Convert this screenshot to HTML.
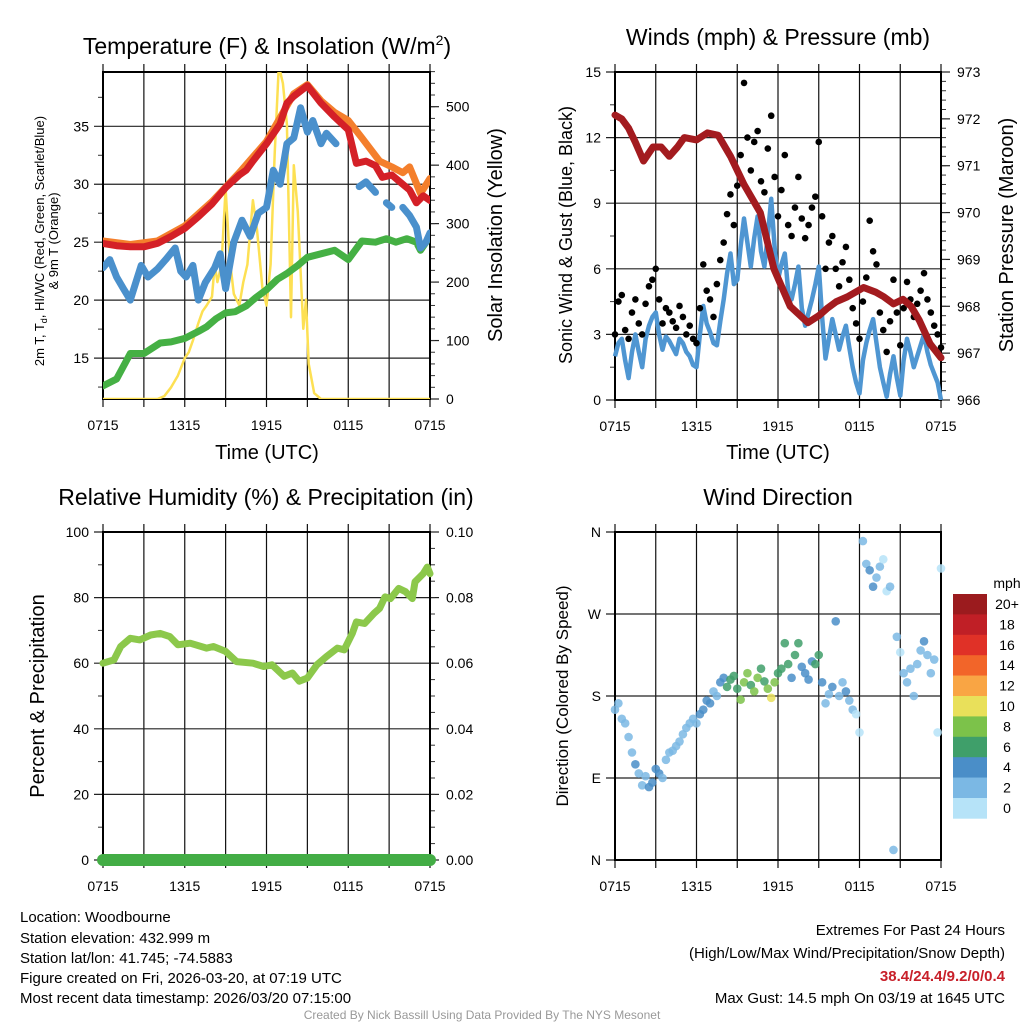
<!DOCTYPE html>
<html><head><meta charset="utf-8"><style>
html,body{margin:0;padding:0;background:#fff;}
svg{display:block;font-family:"Liberation Sans",Arial,sans-serif;}
</style></head><body>
<svg id="fig" width="1024" height="1024" viewBox="0 0 1024 1024" xmlns="http://www.w3.org/2000/svg">
<rect width="1024" height="1024" fill="#fff"/>
<g id="layer"></g>
<!-- titles -->
<text x="267" y="54" font-size="23" text-anchor="middle">Temperature (F) &amp; Insolation (W/m<tspan font-size="14" dy="-9">2</tspan><tspan dy="9">)</tspan></text>
<text x="778" y="45" font-size="23" text-anchor="middle">Winds (mph) &amp; Pressure (mb)</text>
<text x="266" y="505" font-size="23" text-anchor="middle">Relative Humidity (%) &amp; Precipitation (in)</text>
<text x="778" y="505" font-size="23" text-anchor="middle">Wind Direction</text>
<!-- axis titles -->
<text transform="translate(44,241) rotate(-90)" font-size="13" text-anchor="middle">2m T, T<tspan font-size="9" dy="3">d</tspan><tspan dy="-3">, HI/WC (Red, Green, Scarlet/Blue)</tspan></text>
<text transform="translate(58,241) rotate(-90)" font-size="13" text-anchor="middle">&amp; 9m T (Orange)</text>
<text transform="translate(502,235) rotate(-90)" font-size="20" text-anchor="middle">Solar Insolation (Yellow)</text>
<text x="267" y="459" font-size="20" text-anchor="middle">Time (UTC)</text>
<text transform="translate(572,235) rotate(-90)" font-size="18" text-anchor="middle">Sonic Wind &amp; Gust (Blue, Black)</text>
<text transform="translate(1013,235) rotate(-90)" font-size="20" text-anchor="middle">Station Pressure (Maroon)</text>
<text x="778" y="459" font-size="20" text-anchor="middle">Time (UTC)</text>
<text transform="translate(44,696) rotate(-90)" font-size="20" text-anchor="middle">Percent &amp; Precipitation</text>
<text transform="translate(568,696) rotate(-90)" font-size="17" text-anchor="middle">Direction (Colored By Speed)</text>
<!-- footer -->
<g font-size="15">
<text x="20" y="922">Location: Woodbourne</text>
<text x="20" y="943">Station elevation: 432.999 m</text>
<text x="20" y="963">Station lat/lon: 41.745; -74.5883</text>
<text x="20" y="983">Figure created on Fri, 2026-03-20, at 07:19 UTC</text>
<text x="20" y="1003">Most recent data timestamp: 2026/03/20 07:15:00</text>
</g>
<g font-size="15" text-anchor="end">
<text x="1005" y="935">Extremes For Past 24 Hours</text>
<text x="1005" y="958">(High/Low/Max Wind/Precipitation/Snow Depth)</text>
<text x="1005" y="981" fill="#c8202a" font-weight="bold">38.4/24.4/9.2/0/0.4</text>
<text x="1005" y="1003">Max Gust: 14.5 mph On 03/19 at 1645 UTC</text>
</g>
<text x="482" y="1019" font-size="12" fill="#999" text-anchor="middle">Created By Nick Bassill Using Data Provided By The NYS Mesonet</text>
</svg>
<script>
// ---------- data ----------
var xTickLabels = ["0715","1315","1915","0115","0715"];
var tempHours = [0,1,2,3,4,5,6,7,8,9,10,10.5,11,12,13,13.5,14,15,16,17,18,18.6,19.3,20,20.5,21.2,21.8,22.5,23,23.5,24];
var tempValues = [24.9,24.7,24.6,24.6,24.9,25.5,26.2,27.2,28.3,29.7,30.8,31.2,32.0,33.5,35.2,37.0,37.6,38.5,37.0,35.8,34.7,31.8,32.0,31.6,30.6,30.8,30.2,29.5,28.4,29.0,28.6];
var t9Hours = [0,2,4,6,8,10,12,14,15,16,17,18,19,20.3,21.2,22,22.5,23.3,24];
var t9Values = [25.1,24.8,25.1,26.4,28.5,31.0,33.7,37.8,38.6,37.2,36.2,35.5,34.0,32.0,31.5,31.0,31.5,29.2,30.5];
var hiwcHours = [0,0.5,1,1.5,2,2.4,2.8,3.3,4,4.6,5.3,5.7,6.1,6.6,7,7.5,8.2,8.6,9,9.6,10.2,10.8,11.4,12,12.5,13,13.5,14,14.5,15,15.4,16,16.4,17.1,null,18.8,19.3,20,null,20.8,21.2,null,22,22.5,23,23.3,23.7,24];
var hiwcValues = [22.8,23.5,22.0,21.0,20.0,21.5,23.0,22.0,22.7,23.5,24.5,22.5,22.0,23.0,20.0,21.5,22.8,24.0,21.0,25.0,26.9,25.5,27.5,28.0,31.2,30.0,33.5,34.0,36.6,34.5,35.5,33.5,34.4,33.5,null,29.8,30.2,29.3,null,28.4,28.0,null,28.0,27.3,26.3,24.5,25.0,25.8];
var dewHours = [0,1,2,3,4.2,5,6,7,7.6,8.3,9,9.7,10.5,11.2,12,12.8,13.5,14.3,15,16,17,18,18.5,19,20,20.8,21.5,22.3,23,23.3,24];
var dewValues = [12.6,13.2,15.4,15.4,16.3,16.4,16.7,17.3,17.7,18.4,18.9,19.0,19.5,20.2,20.9,21.8,22.3,23.0,23.7,24.0,24.3,23.5,24.3,25.1,25.0,25.3,25.0,25.3,25.0,24.3,25.5];
var solarHours = [0,4,4.5,5,5.5,6,6.3,6.6,7,7.3,7.6,8,8.2,8.4,8.7,9,9.3,9.6,10,10.3,10.6,11,11.3,11.7,12,12.3,12.6,12.9,13.2,13.5,13.8,14,14.3,14.7,14.9,15.1,15.5,16,24];
var solarValues = [0,0,5,20,40,70,80,100,130,150,160,175,230,200,230,360,240,180,160,200,230,340,290,190,160,230,420,570,540,470,140,400,320,120,170,60,10,0,0];

var windValues = [2.0,2.6,2.8,1.8,1.0,2.2,3.0,2.2,1.5, 2.8,3.4,3.8,4.0,3.0,2.3,2.9,2.7, 2.4,2.1,2.8,2.6,2.2,2.0,1.6,1.5, 3.0,4.3,3.5,3.1,2.6,2.5,3.6,4.6, 5.8,6.7,5.3,5.5,7.0,8.3,7.2,6.1, 7.4,8.4,6.8,6.1,7.5,9.2,7.0,5.5, 6.2,6.7,5.0,4.6,5.3,6.1,4.2,3.4, 4.0,4.6,5.3,6.1,3.8,1.9,2.8,3.7, 3.0,2.3,2.9,3.4,2.4,1.5,0.8,0.3, 1.8,2.6,3.2,3.7,2.6,1.5,0.8,0.15, 1.2,2.0,1.0,0.2,1.8,2.8,2.2,1.5, 2.0,2.5,3.0,2.2,1.6,1.2,0.8,0.0];
var gustValues = [3.0,4.5,4.8,3.2,2.8,4.0,4.6,3.5,3.0, 4.4,5.2,5.5,6.0,4.6,3.5,4.2,4.0, 3.6,3.3,4.3,3.8,3.0,3.4,2.8,2.6, 4.2,6.2,5.0,4.6,3.8,5.3,6.4,7.2, 8.5,9.4,8.0,9.8,11.2,14.5,12.0,10.5, 11.8,12.3,10.0,9.5,11.5,13.0,10.2,8.4, 9.6,11.2,8.0,7.5,8.8,10.2,8.3,7.4, 8.0,8.8,9.3,11.8,8.4,6.0,7.2,7.5, 6.0,5.2,6.3,7.0,5.5,4.2,3.5,2.8, 4.5,5.6,8.2,6.8,6.2,4.0,3.2,2.2, 3.6,5.5,4.0,2.5,4.2,5.4,4.6,3.8, 4.4,5.0,5.8,4.6,4.0,3.4,3.0,2.4];
var pressHours = [0,0.5,1,1.5,2.1,2.8,3.4,4.0,4.6,5.1,6,6.8,7.6,8.5,9.5,10.7,11.7,12.9,14.2,15,15.6,16.3,17.1,18.3,19.2,19.8,20.5,21.2,21.8,22.4,23.2,24];
var pressValues = [972.08,972.0,971.8,971.5,971.1,971.4,971.4,971.2,971.4,971.6,971.55,971.7,971.65,971.2,970.6,970.0,968.8,968.0,967.65,967.8,967.95,968.1,968.2,968.4,968.3,968.2,968.05,968.15,968.0,967.7,967.2,966.9];

var rhHours = [0,0.8,1.3,2,2.7,3.5,4.2,4.9,5.5,6.4,7.6,8.1,9,9.8,11,11.8,12.4,13.3,13.9,14.4,15,15.7,16.4,17.2,17.7,18.3,18.6,19.2,19.9,20.3,20.7,21.1,21.7,22.2,22.7,22.9,23.5,23.8,24];
var rhValues = [60.0,61.0,65.1,67.6,67.1,68.6,69.1,68.1,65.6,66.1,64.6,65.1,63.6,60.5,60.0,59.0,59.5,56.0,57.0,54.5,55.5,59.5,62.0,64.6,64.1,69.1,72.6,72.1,75.2,76.7,80.2,79.7,82.8,81.8,79.7,84.8,87.3,89.3,87.3];
var precipValues = [0,0];

var dirValues = [165,172,155,150,135,118,105,95,82, 92,80,85,100,95,90,110,118, 120,125,130,138,145,150,155,150, 160,165,175,172,185,180,195,200, 190,198,202,188,176,195,205,192, 185,200,210,196,188,178,195,205, 210,238,215,200,225,238,212,205, 198,218,215,225,195,172,182,190, 262,180,195,185,175,165,160,140, 350,325,318,300,310,322,330,295, 300,11,245,228,205,195,210,180, 215,230,240,225,205,220,140,320];
var speedBinLabels = ["0","2","4","6","8","10","12","14","16","18","20+"];
var speedBinColors = ["#b6e3f8","#7bb8e4","#4a8ec8","#3f9f6a","#7cc24a","#e9e05a","#f9a544","#f26529","#e03127","#c01f26","#9b1b1e"];
var dirLabels = ["N","E","S","W","N"];

// ---------- helpers ----------
var NS="http://www.w3.org/2000/svg";
var layer=document.getElementById('layer');
function mk(tag,attrs,parent){var e=document.createElementNS(NS,tag);for(var k in attrs)e.setAttribute(k,attrs[k]);(parent||layer).appendChild(e);return e;}
function lin(d0,d1,r0,r1){return function(v){return r0+(v-d0)*(r1-r0)/(d1-d0);};}
function pathFrom(xs,ys,fx,fy){var d="",pen=false;for(var i=0;i<xs.length;i++){if(xs[i]===null||ys[i]===null){pen=false;continue;}d+=(pen?"L":"M")+fx(xs[i]).toFixed(1)+","+fy(ys[i]).toFixed(1);pen=true;}return d;}

function panel(name,x0,y0,x1,y1,yL,yR,leftTicks,leftMinor,leftFmt,rightTicks,rightMinor,rightFmt){
  var g=mk('g',{});
  
  
  var fx=lin(0,24,x0,x1);
  for(var h=0;h<=24;h+=3){
    var x=fx(h);
    var ln=mk('line',{x1:x,y1:y0-8,x2:x,y2:y1+8,stroke:'#111','stroke-width':1.2},g);
    
    
  }
  for(var i=0;i<xTickLabels.length;i++){
    var t=mk('text',{x:fx(i*6),y:y1+31,'font-size':14,'text-anchor':'middle'},g);
    
    
    t.textContent=xTickLabels[i];
  }
  leftTicks.forEach(function(v){
    var y=yL(v);
    mk('line',{x1:x0-9,y1:y,x2:x1,y2:y,stroke:'#222','stroke-width':1.2},g);
    var t=mk('text',{x:x0-14,y:y+5,'font-size':14,'text-anchor':'end'},g);
    
    
    t.textContent=leftFmt(v);
  });
  leftMinor.forEach(function(v){var y=yL(v);mk('line',{x1:x0-5,y1:y,x2:x0,y2:y,stroke:'#333','stroke-width':1},g);});
  if(yR){
    rightTicks.forEach(function(v){
      var y=yR(v);
      mk('line',{x1:x1,y1:y,x2:x1+9,y2:y,stroke:'#222','stroke-width':1.2},g);
      var t=mk('text',{x:x1+16,y:y+5,'font-size':14,'text-anchor':'start'},g);
      
      
      t.textContent=rightFmt(v);
    });
    rightMinor.forEach(function(v){var y=yR(v);mk('line',{x1:x1,y1:y,x2:x1+5,y2:y,stroke:'#333','stroke-width':1},g);});
  }
  var b=mk('rect',{x:x0,y:y0,width:x1-x0,height:y1-y0,fill:'none',stroke:'#000','stroke-width':2},g);
  
  
  return fx;
}
function rng(a,b,s){var r=[];for(var v=a;v<=b+1e-9;v+=s)r.push(Math.round(v*1000)/1000);return r;}

// ---------- Panel 1: temperature ----------
(function(){
  var x0=103,x1=430,y0=72,y1=399;
  var yT=lin(11.47,35,399,126.3), yS=lin(0,500,399,106.7);
  var fx=panel('temp',x0,y0,x1,y1,yT,yS,[15,20,25,30,35],[12.5,17.5,22.5,27.5,32.5,37.5],String,rng(0,500,100),rng(20,560,20),String);
  var clip=mk('clipPath',{id:'c1'});mk('rect',{x:x0,y:y0,width:x1-x0,height:y1-y0},clip);
  var g=mk('g',{'clip-path':'url(#c1)'});
  var s;
  s=mk('path',{d:pathFrom(solarHours,solarValues,fx,yS),fill:'none',stroke:'#fde053','stroke-width':2.5,'stroke-linejoin':'round'},g);
  
  s=mk('path',{d:pathFrom(dewHours,dewValues,fx,yT),fill:'none',stroke:'#45b044','stroke-width':7,'stroke-linejoin':'round','stroke-linecap':'round'},g);
  
  s=mk('path',{d:pathFrom(hiwcHours,hiwcValues,fx,yT),fill:'none',stroke:'#4a90cc','stroke-width':7,'stroke-linejoin':'round','stroke-linecap':'round'},g);
  
  s=mk('path',{d:pathFrom(t9Hours,t9Values,fx,yT),fill:'none',stroke:'#f47f2c','stroke-width':7,'stroke-linejoin':'round','stroke-linecap':'round'},g);
  
  s=mk('path',{d:pathFrom(tempHours,tempValues,fx,yT),fill:'none',stroke:'#d42027','stroke-width':7,'stroke-linejoin':'round','stroke-linecap':'round'},g);
  
})();

// ---------- Panel 2: wind & pressure ----------
(function(){
  var x0=615,x1=941,y0=72,y1=400;
  var yW=lin(0,15,400,72), yP=lin(966,973,400,72);
  var fx=panel('wind',x0,y0,x1,y1,yW,yP,[0,3,6,9,12,15],[1.5,4.5,7.5,10.5,13.5],String,rng(966,973,1),rng(966.2,972.8,0.2),String);
  var clip=mk('clipPath',{id:'c2'});mk('rect',{x:x0-4,y:y0,width:x1-x0+8,height:y1-y0},clip);
  var g=mk('g',{'clip-path':'url(#c2)'});
  var hrs=windValues.map(function(v,i){return i*0.25;});
  var s=mk('path',{d:pathFrom(hrs,windValues,fx,yW),fill:'none',stroke:'#4f96d2','stroke-width':4.5,'stroke-linejoin':'round'},g);
  
  gustValues.forEach(function(v,i){
    var c=mk('circle',{cx:fx(i*0.25),cy:yW(v),r:3.3,fill:'#000'},g);
    
    
  });
  s=mk('path',{d:pathFrom(pressHours,pressValues,fx,yP),fill:'none',stroke:'#a31b1f','stroke-width':7,'stroke-linejoin':'round','stroke-linecap':'round'},g);
  
})();

// ---------- Panel 3: RH ----------
(function(){
  var x0=103,x1=430,y0=532,y1=860;
  var yR=lin(0,100,860,532), yPr=lin(0,0.1,860,532);
  var fx=panel('rh',x0,y0,x1,y1,yR,yPr,[0,20,40,60,80,100],[10,30,50,70,90],String,[0,0.02,0.04,0.06,0.08,0.1],rng(0.005,0.095,0.005),function(v){return v.toFixed(2);});
  var s=mk('path',{d:pathFrom(rhHours,rhValues,fx,yR),fill:'none',stroke:'#8cc84b','stroke-width':7,'stroke-linejoin':'round','stroke-linecap':'round'});
  
  s=mk('path',{d:pathFrom([0,24],precipValues,fx,yPr),fill:'none',stroke:'#43ad45','stroke-width':12,'stroke-linecap':'round'});
  
})();

// ---------- Panel 4: wind direction ----------
(function(){
  var x0=615,x1=941,y0=532,y1=860;
  var yD=lin(0,360,860,532);
  var fx=panel('dir',x0,y0,x1,y1,yD,null,[0,90,180,270,360],[],function(v){return dirLabels[v/90];});
  dirValues.forEach(function(d,i){
    var bin=Math.min(10,Math.floor((windValues[i]+1)/2));
    var c=mk('circle',{cx:fx(i*0.25),cy:yD(d),r:4.3,fill:speedBinColors[bin],'fill-opacity':0.85});
    
    
  });
  var cb=mk('g',{});
  
  
  var t=mk('text',{x:1007,y:588,'font-size':14,'text-anchor':'middle'},cb);t.textContent='mph';
  var top=594,bh=20.4;
  for(var k=0;k<speedBinColors.length;k++){
    var idx=speedBinColors.length-1-k;
    var r=mk('rect',{x:953,y:top+k*bh,width:34,height:bh+0.3,fill:speedBinColors[idx]},cb);
    
    
    var tl=mk('text',{x:1007,y:top+k*bh+15,'font-size':14,'text-anchor':'middle'},cb);
    
    
    tl.textContent=speedBinLabels[idx];
  }
})();
</script>
</body></html>
